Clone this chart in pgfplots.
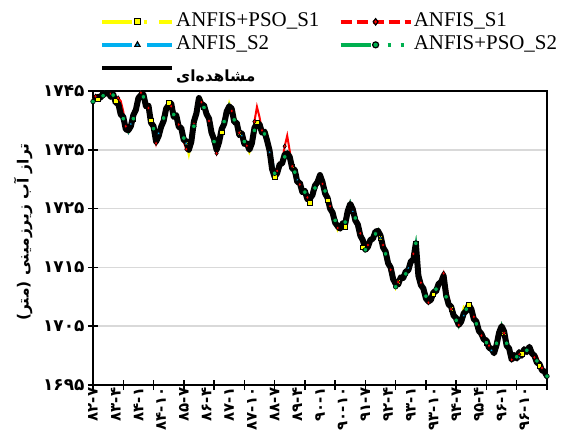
\documentclass[border=0pt]{standalone}
\usepackage{pgfplots}
\pgfplotsset{compat=1.18}
\usepackage{pgfplotstable}
\usepackage{fontspec}
\setmainfont{Liberation Serif}
\newfontfamily\fa[Script=Arabic]{DejaVu Sans}
\TeXXeTstate=1
\newcommand{\pl}[1]{\hbox{\fa\bfseries #1}}
\definecolor{yc}{HTML}{FFFF00}
\definecolor{rc}{HTML}{FF0000}
\definecolor{bc}{HTML}{00B0F0}
\definecolor{gc}{HTML}{00B050}
\pgfplotstableread{
m o a b c d
0 1743.5 1743.5 1743.5 1743.5 1743.2
1 1743.8 1744.1 1744.1 1744.1 1744.1
2 1744.0 1743.6 1743.6 1743.6 1743.6
3 1743.9 1744.3 1744.3 1744.3 1744.0
4 1744.6 1744.2 1744.2 1744.2 1744.2
5 1744.5 1744.6 1744.9 1745.0 1744.9
6 1745.0 1745.0 1745.0 1745.0 1745.0
7 1744.0 1744.5 1744.5 1744.5 1744.5
8 1744.5 1744.3 1744.3 1744.3 1744.3
9 1743.0 1743.3 1743.3 1743.3 1743.3
10 1742.9 1742.2 1743.8 1742.6 1742.6
11 1741.0 1741.5 1743.3 1741.5 1741.5
12 1740.6 1740.3 1741.5 1740.3 1740.3
13 1738.5 1739.0 1739.0 1739.0 1738.6
14 1738.3 1738.0 1738.0 1738.0 1738.0
15 1739.0 1739.4 1739.4 1739.4 1739.4
16 1740.9 1740.3 1740.3 1740.3 1740.3
17 1741.8 1742.2 1742.2 1742.2 1742.2
18 1743.8 1743.4 1743.4 1743.4 1743.4
19 1744.3 1744.7 1744.7 1744.7 1744.7
20 1744.4 1744.0 1744.0 1744.0 1744.0
21 1742.4 1742.8 1742.8 1742.8 1742.8
22 1742.5 1742.1 1742.1 1742.1 1742.1
23 1739.6 1740.0 1740.0 1740.0 1740.0
24 1739.0 1738.1 1738.0 1738.6 1738.6
25 1736.4 1736.7 1736.1 1736.7 1736.7
26 1737.3 1737.8 1737.8 1737.8 1736.9
27 1738.9 1738.4 1738.4 1738.4 1738.4
28 1739.9 1740.4 1740.4 1740.4 1740.4
29 1742.0 1741.5 1741.5 1741.5 1741.5
30 1742.6 1743.0 1743.0 1743.0 1743.0
31 1742.9 1742.4 1742.4 1742.4 1742.4
32 1740.6 1741.0 1741.0 1741.0 1741.0
33 1740.9 1740.5 1740.5 1740.5 1740.5
34 1738.9 1739.3 1739.3 1739.3 1739.3
35 1738.7 1738.3 1738.3 1738.3 1738.3
36 1736.6 1737.0 1736.3 1737.0 1737.0
37 1736.5 1736.1 1735.1 1736.1 1736.1
38 1735.0 1734.1 1735.0 1735.0 1735.0
39 1736.4 1736.3 1736.9 1736.9 1736.9
40 1739.8 1739.4 1739.4 1739.4 1739.0
41 1741.2 1741.6 1741.6 1741.6 1741.6
42 1743.8 1743.8 1743.8 1743.8 1743.8
43 1742.7 1743.6 1743.1 1743.1 1743.1
44 1742.6 1742.2 1742.2 1742.2 1742.2
45 1741.1 1741.6 1741.6 1741.6 1741.6
46 1740.3 1739.9 1739.9 1739.9 1739.9
47 1737.9 1738.3 1738.3 1738.3 1738.3
48 1736.8 1736.4 1735.8 1736.4 1736.4
49 1735.0 1735.0 1734.4 1735.0 1735.0
50 1736.3 1736.7 1735.7 1736.7 1736.7
51 1738.5 1738.0 1738.0 1738.0 1738.0
52 1739.4 1739.8 1739.8 1739.8 1739.8
53 1741.5 1741.1 1741.1 1741.1 1741.1
54 1742.4 1743.0 1742.6 1742.6 1742.6
55 1742.0 1741.6 1741.6 1741.6 1741.6
56 1739.7 1741.3 1740.1 1740.1 1740.1
57 1739.6 1739.2 1739.2 1739.2 1739.2
58 1737.5 1737.9 1737.9 1737.9 1738.2
59 1737.8 1737.4 1737.4 1737.4 1737.4
60 1736.0 1736.4 1736.4 1736.4 1736.4
61 1736.1 1735.7 1735.7 1735.7 1735.7
62 1735.0 1734.5 1735.0 1735.0 1735.0
63 1736.1 1735.5 1736.5 1736.5 1736.5
64 1738.7 1738.3 1739.8 1738.3 1738.3
65 1739.5 1739.7 1742.3 1739.7 1739.7
66 1739.4 1739.1 1740.6 1739.1 1739.1
67 1737.9 1738.3 1738.3 1738.3 1738.3
68 1738.1 1737.7 1737.7 1737.7 1737.7
69 1736.6 1737.9 1736.9 1736.9 1736.9
70 1734.9 1735.4 1734.6 1734.6 1734.6
71 1731.7 1732.1 1732.1 1733.6 1732.1
72 1730.4 1730.4 1730.4 1731.2 1731.0
73 1731.0 1731.4 1731.4 1731.4 1731.2
74 1732.5 1732.1 1732.1 1732.1 1732.1
75 1732.7 1733.1 1733.1 1733.1 1733.1
76 1734.2 1733.8 1735.6 1733.8 1733.8
77 1734.4 1734.6 1737.4 1734.6 1734.6
78 1733.8 1733.5 1734.8 1733.5 1733.5
79 1731.8 1732.2 1732.2 1732.2 1732.2
80 1731.6 1731.2 1731.2 1731.2 1731.2
81 1729.5 1729.9 1729.9 1729.9 1729.9
82 1729.4 1729.1 1729.1 1729.1 1729.1
83 1727.8 1728.2 1728.2 1728.2 1728.2
84 1728.0 1727.8 1727.8 1727.8 1727.8
85 1726.6 1726.9 1726.9 1726.9 1726.9
86 1726.7 1726.0 1726.5 1726.5 1726.5
87 1727.3 1727.7 1727.7 1727.7 1727.7
88 1728.9 1728.5 1728.5 1728.5 1728.5
89 1729.5 1729.9 1729.9 1729.9 1729.9
90 1730.7 1730.7 1730.7 1730.7 1730.7
91 1729.5 1729.2 1729.2 1729.2 1729.2
92 1727.6 1728.0 1728.0 1728.0 1728.0
93 1726.8 1726.4 1726.4 1726.4 1726.4
94 1725.0 1725.4 1725.4 1725.4 1725.4
95 1724.3 1723.9 1723.9 1723.9 1723.9
96 1722.6 1723.0 1723.0 1723.0 1723.0
97 1722.0 1721.3 1721.7 1721.7 1721.7
98 1721.6 1721.9 1721.9 1721.9 1721.9
99 1722.5 1722.1 1722.1 1722.1 1721.6
100 1722.4 1721.9 1722.7 1722.7 1722.7
101 1724.6 1724.2 1724.2 1724.2 1724.2
102 1725.8 1726.0 1726.0 1726.0 1726.0
103 1724.9 1724.5 1724.5 1724.5 1724.5
104 1723.0 1723.4 1723.4 1723.4 1723.4
105 1722.3 1721.9 1721.9 1721.9 1721.9
106 1720.4 1720.8 1720.8 1720.8 1720.8
107 1719.6 1718.4 1719.2 1719.2 1719.2
108 1718.0 1718.0 1718.0 1718.0 1718.0
109 1718.5 1718.8 1718.8 1718.8 1718.8
110 1719.7 1719.3 1719.3 1719.3 1719.3
111 1719.9 1720.2 1720.2 1720.2 1720.2
112 1721.1 1720.7 1720.7 1720.7 1720.7
113 1721.2 1721.4 1721.4 1721.4 1721.4
114 1720.4 1720.0 1720.0 1720.0 1720.0
115 1718.4 1718.8 1718.8 1718.8 1718.8
116 1717.7 1717.3 1717.3 1717.3 1717.3
117 1715.7 1716.1 1716.1 1716.1 1716.1
118 1715.0 1714.6 1714.6 1714.2 1714.6
119 1713.0 1713.4 1713.4 1713.4 1713.4
120 1712.2 1711.5 1712.0 1712.0 1711.7
121 1712.1 1712.5 1712.5 1712.5 1712.5
122 1713.3 1712.9 1712.9 1712.9 1712.9
123 1713.2 1713.6 1713.6 1713.6 1713.6
124 1714.3 1713.9 1713.9 1713.9 1713.9
125 1714.5 1714.9 1714.9 1714.9 1714.9
126 1716.0 1715.6 1715.6 1715.6 1715.6
127 1716.3 1716.5 1717.3 1716.5 1716.5
128 1719.1 1719.1 1719.1 1719.1 1719.1
129 1713.6 1713.4 1713.4 1713.4 1713.4
130 1712.0 1712.4 1712.4 1712.4 1712.4
131 1711.4 1711.0 1711.0 1710.3 1711.0
132 1709.7 1710.1 1710.1 1710.1 1710.1
133 1709.2 1709.0 1709.0 1709.0 1709.0
134 1709.5 1709.8 1709.8 1709.8 1709.8
135 1710.8 1710.4 1710.4 1710.4 1710.4
136 1710.9 1711.3 1711.3 1711.3 1711.3
137 1712.2 1711.8 1711.8 1711.8 1711.8
138 1712.5 1712.8 1712.8 1712.8 1712.8
139 1713.6 1713.4 1714.0 1713.4 1713.4
140 1710.3 1710.0 1712.0 1710.0 1710.0
141 1708.7 1709.1 1709.9 1709.1 1709.1
142 1708.3 1707.9 1707.9 1707.9 1707.9
143 1706.8 1707.2 1707.2 1707.2 1707.2
144 1706.4 1706.0 1706.0 1706.0 1706.0
145 1705.2 1705.2 1705.2 1705.2 1704.9
146 1705.8 1706.1 1706.1 1706.1 1706.1
147 1707.2 1708.3 1707.3 1706.8 1706.8
148 1707.6 1707.9 1707.9 1707.9 1707.9
149 1708.6 1708.6 1708.6 1708.6 1708.6
150 1707.9 1707.5 1707.5 1707.5 1707.8
151 1706.2 1706.6 1706.6 1706.6 1706.6
152 1705.8 1705.4 1705.4 1705.4 1705.4
153 1704.2 1704.6 1704.6 1704.6 1704.6
154 1703.7 1703.4 1703.4 1703.4 1703.4
155 1702.7 1703.0 1703.0 1703.0 1703.0
156 1702.6 1702.2 1702.2 1702.2 1702.2
157 1701.3 1701.7 1701.7 1701.7 1701.7
158 1701.2 1700.9 1700.9 1700.9 1700.9
159 1700.4 1700.8 1700.4 1700.4 1700.4
160 1701.8 1702.1 1702.1 1702.1 1702.1
161 1703.9 1703.5 1703.5 1703.5 1703.5
162 1705.0 1705.2 1705.2 1705.2 1705.2
163 1704.1 1703.8 1703.8 1703.8 1703.8
164 1701.7 1702.1 1702.5 1702.1 1702.1
165 1701.2 1700.9 1700.9 1700.9 1700.9
166 1699.3 1699.3 1699.3 1699.3 1699.3
167 1700.1 1699.7 1699.7 1699.7 1699.7
168 1699.5 1699.8 1699.8 1699.8 1699.8
169 1700.6 1700.2 1700.2 1699.7 1700.2
170 1700.0 1700.3 1700.3 1700.3 1700.3
171 1701.1 1700.8 1700.8 1700.8 1700.8
172 1700.6 1700.9 1700.9 1700.9 1700.9
173 1701.5 1701.3 1701.3 1701.3 1701.3
174 1700.4 1700.7 1700.7 1700.7 1700.7
175 1700.0 1699.7 1699.7 1699.7 1699.7
176 1698.8 1699.1 1699.9 1699.1 1699.1
177 1698.6 1698.3 1698.8 1698.3 1698.3
178 1697.5 1697.9 1697.9 1697.9 1697.9
179 1697.3 1697.1 1697.1 1697.1 1696.9
180 1696.5 1696.5 1696.5 1696.5 1696.5
}\data
\begin{document}
\begin{tikzpicture}
\begin{axis}[
  scale only axis, width=454bp, height=294bp,
  xmin=0, xmax=180, ymin=1695, ymax=1745,
  axis line style={line width=1.5bp, black},
  ytick={1695,1705,...,1745},
  yticklabels={\pl{۱۶۹۵},\pl{۱۷۰۵},\pl{۱۷۱۵},\pl{۱۷۲۵},\pl{۱۷۳۵},\pl{۱۷۴۵}},
  yticklabel style={font=\fontsize{17}{17}\selectfont},
  ymajorgrids, grid style={line width=1.5bp, color=black!15},
  ytick pos=left, xtick pos=bottom,
  tick align=center, major tick length=10bp,
  tick style={line width=1.5bp, black},
  xtick={0,12,...,180}, xticklabels={},
  extra x ticks={0,9,...,171},
  extra x tick labels={\pl{۸۲-۷},\pl{۸۳-۴},\pl{۸۴-۱},\pl{۸۴-۱۰},\pl{۸۵-۷},\pl{۸۶-۴},\pl{۸۷-۱},\pl{۸۷-۱۰},\pl{۸۸-۷},\pl{۸۹-۴},\pl{۹۰-۱},\pl{۹۰-۱۰},\pl{۹۱-۷},\pl{۹۲-۴},\pl{۹۳-۱},\pl{۹۳-۱۰},\pl{۹۴-۷},\pl{۹۵-۴},\pl{۹۶-۱},\pl{۹۶-۱۰}},
  extra x tick style={major tick length=0pt, tick style={draw=none}},
  xticklabel style={rotate=90, anchor=east, font=\fontsize{15}{15}\selectfont, inner sep=2.5bp},
  ylabel={\fa\bfseries\beginR تراز آب زیرزمینی (متر)\endR},
  every axis y label/.style={at={(axis description cs:-0.154,0.52)}, rotate=90, anchor=center, font=\fontsize{15.5}{15.5}\selectfont},
  legend image code/.code={\draw[mark repeat=2,mark phase=2,#1] plot coordinates {(0bp,0bp) (35bp,0bp) (70bp,0bp)};},
  legend style={at={(axis description cs:0.0154,1.275)}, anchor=north west, draw=none, fill=none, inner sep=0pt, legend columns=2,
    /tikz/every even column/.append style={column sep=18bp},
    nodes={inner sep=1.5bp, text height=15bp, text depth=5bp, font=\fontsize{21}{22}\selectfont}},
  legend cell align=left,
]
\addlegendimage{yc, line width=3.5bp, dash pattern=on 30bp off 12bp on 3bp off 12bp, mark=square*, mark size=3bp, mark options={solid, fill=yc, draw=black, line width=1.2bp}}
\addlegendentry{ANFIS+PSO\_S1}
\addlegendimage{rc, line width=3.5bp, dash pattern=on 11bp off 5bp, mark=diamond*, mark size=3.2bp, mark options={solid, fill=rc, draw=black, line width=1.2bp}}
\addlegendentry{ANFIS\_S1}
\addlegendimage{bc, line width=3.5bp, dash pattern=on 30bp off 15bp, mark=triangle*, mark size=3bp, mark options={solid, fill=bc, draw=black, line width=1.2bp}}
\addlegendentry{ANFIS\_S2}
\addlegendimage{gc, line width=3.5bp, dash pattern=on 30bp off 17bp on 3bp off 10bp on 3bp off 10bp, mark=*, mark size=3bp, mark options={solid, fill=gc, draw=black, line width=1.2bp}}
\addlegendentry{ANFIS+PSO\_S2}
\addlegendimage{black, line width=4.5bp}
\addlegendentry{\raisebox{-9bp}{\fa\bfseries\fontsize{15.5}{15.5}\selectfont مشاهده‌ای}}
% model lines
\addplot[forget plot, yc, line width=2bp] table[x=m,y=a]{\data};
\addplot[forget plot, rc, line width=2bp] table[x=m,y=b]{\data};
\addplot[forget plot, bc, line width=2bp] table[x=m,y=c]{\data};
\addplot[forget plot, gc, line width=2bp] table[x=m,y=d]{\data};
% observed
\addplot[forget plot, black, line width=6bp, line join=round, line cap=round] table[x=m,y=o]{\data};
% model markers
\addplot[forget plot, only marks, mark=square*, mark size=2.3bp, mark options={fill=yc, draw=black, line width=0.7bp}, mark repeat=7, mark phase=3] table[x=m,y=a]{\data};
\addplot[forget plot, only marks, mark=diamond*, mark size=2.2bp, mark options={fill=rc, draw=black, line width=0.6bp}, mark repeat=3, mark phase=2] table[x=m,y=b]{\data};
\addplot[forget plot, only marks, mark=triangle*, mark size=2bp, mark options={fill=bc, draw=black, line width=0.6bp}, mark repeat=11, mark phase=5] table[x=m,y=c]{\data};
\addplot[forget plot, only marks, mark=*, mark size=2.3bp, mark options={fill=gc, draw=black, line width=0.6bp}, mark repeat=4, mark phase=1] table[x=m,y=d]{\data};
\end{axis}
\pgfresetboundingbox
\path[use as bounding box] (current axis.south west) ++(-93bp,-46bp) rectangle ++(567bp,431bp);
\end{tikzpicture}
\end{document}
